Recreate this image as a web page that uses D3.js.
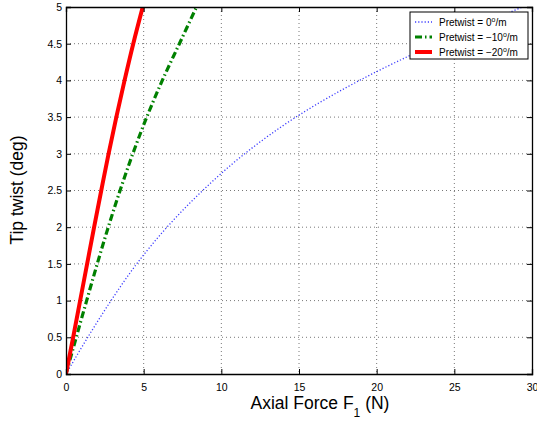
<!DOCTYPE html>
<html>
<head>
<meta charset="utf-8">
<script src="https://cdn.jsdelivr.net/npm/d3@7"></script>
<style>
  body { margin: 0; background: #fff; }
  svg text { font-family: "Liberation Sans", Arial, Helvetica, sans-serif; fill: #000; }
</style>
</head>
<body>
<div id="chart-area"></div>
<script>
// tip twist levels (deg) and the axial force (N) at those levels
const twistLevels = [0, 0.5, 1, 1.5, 2, 2.5, 3, 3.5, 4, 4.5, 5];
const force0 = [0, 1.4, 2.9, 4.55, 6.5, 8.8, 11.5, 14.8, 18.9, 23.8, 29.4];
const force10 = [0, 0.66, 1.33, 2.01, 2.72, 3.48, 4.3, 5.2, 6.2, 7.3, 8.4];
const force20 = [0, 0.46, 0.91, 1.36, 1.81, 2.27, 2.74, 3.24, 3.77, 4.33, 4.94];
const seriesNames = ["0", "\u221210", "\u221220"];
const xTicks = [0, 5, 10, 15, 20, 25, 30];
const yTicks = [0, 0.5, 1, 1.5, 2, 2.5, 3, 3.5, 4, 4.5, 5];

const margin = {top: 7, right: 5, bottom: 49, left: 66};
const width = 537 - margin.left - margin.right;
const height = 423 - margin.top - margin.bottom;

const svg = d3.select("#chart-area")
    .append("svg")
    .attr("width", 537)
    .attr("height", 423);

const g = svg.append("g")
    .attr("transform", `translate(${margin.left}, ${margin.top})`);

const xScale = d3.scaleLinear().domain([0, 30]).range([0, width]);
const yScale = d3.scaleLinear().domain([0, 5]).range([height, 0]);

// dotted grid
g.selectAll(".gx").data(xTicks.slice(1, -1)).enter().append("line")
    .attr("x1", d => xScale(d)).attr("x2", d => xScale(d))
    .attr("y1", 0).attr("y2", height)
    .attr("stroke", "#555").attr("stroke-width", 0.8)
    .attr("stroke-dasharray", "1,3");
g.selectAll(".gy").data(yTicks.slice(1, -1)).enter().append("line")
    .attr("y1", d => yScale(d)).attr("y2", d => yScale(d))
    .attr("x1", 0).attr("x2", width)
    .attr("stroke", "#555").attr("stroke-width", 0.8)
    .attr("stroke-dasharray", "1,3");

// curves
g.append("clipPath").attr("id", "clip")
    .append("rect").attr("width", width).attr("height", height);

const series = [
    {name: seriesNames[0], force: force0, color: "#3c3cff", width: 1.3, dash: "1.2,2"},
    {name: seriesNames[1], force: force10, color: "#008000", width: 3.2, dash: "7,3,1.5,3"},
    {name: seriesNames[2], force: force20, color: "#ff0000", width: 4, dash: null}
];

const line = d3.line()
    .x(d => xScale(d[0]))
    .y(d => yScale(d[1]))
    .curve(d3.curveCatmullRom);

const plot = g.append("g").attr("clip-path", "url(#clip)");
series.forEach(s => {
    plot.append("path")
        .datum(s.force.map((f, i) => [f, twistLevels[i]]))
        .attr("fill", "none")
        .attr("stroke", s.color)
        .attr("stroke-width", s.width)
        .attr("stroke-dasharray", s.dash)
        .attr("d", line);
});

// axes box with inward ticks on all sides
const fmt = d3.format("~g");
const xAxis = d3.axisBottom(xScale).tickValues(xTicks).tickSize(-5).tickPadding(8).tickFormat(fmt);
const yAxis = d3.axisLeft(yScale).tickValues(yTicks).tickSize(-5).tickPadding(8).tickFormat(fmt);

const gx = g.append("g").attr("transform", `translate(0, ${height})`).call(xAxis);
const gy = g.append("g").call(yAxis);
g.append("g").call(d3.axisTop(xScale).tickValues(xTicks).tickSize(-5).tickFormat(""));
g.append("g").attr("transform", `translate(${width}, 0)`)
    .call(d3.axisRight(yScale).tickValues(yTicks).tickSize(-5).tickFormat(""));

g.selectAll(".domain").attr("stroke", "#000").attr("stroke-width", 1.3);
g.selectAll(".tick line").attr("stroke", "#000");
g.selectAll(".tick text").style("font-size", "10.5px").attr("fill", "#000");
gx.selectAll(".tick text").attr("dy", "0.9em");
gy.selectAll(".tick text").attr("x", -4);

// axis labels
const xl = svg.append("text")
    .attr("x", 320)
    .attr("y", 409)
    .attr("text-anchor", "middle")
    .style("font-size", "17.5px");
xl.append("tspan").text("Axial Force F");
xl.append("tspan").attr("dy", 8).style("font-size", "12px").text("1");
xl.append("tspan").attr("dy", -8).text(" (N)");

svg.append("text")
    .attr("transform", "translate(23, 190) rotate(-90)")
    .attr("text-anchor", "middle")
    .style("font-size", "17.5px")
    .text("Tip twist (deg)");

// legend
const legend = svg.append("g").attr("transform", "translate(410, 12)");
legend.append("rect")
    .attr("width", 118).attr("height", 47)
    .attr("fill", "#fff").attr("stroke", "#000").attr("stroke-width", 1);

const item = legend.selectAll(".item").data(series).enter().append("g")
    .attr("transform", (d, i) => `translate(0, ${10 + i * 15})`);
item.append("line")
    .attr("x1", 5).attr("x2", 22)
    .attr("stroke", d => d.color)
    .attr("stroke-width", d => d.width)
    .attr("stroke-dasharray", d => d.dash);
const lt = item.append("text")
    .attr("x", 29).attr("y", 4)
    .style("font-size", "10px");
lt.append("tspan").text(d => "Pretwist = " + d.name);
lt.append("tspan").attr("dy", -4).style("font-size", "7px").text("o");
lt.append("tspan").attr("dy", 4).text("/m");
</script>
</body>
</html>
